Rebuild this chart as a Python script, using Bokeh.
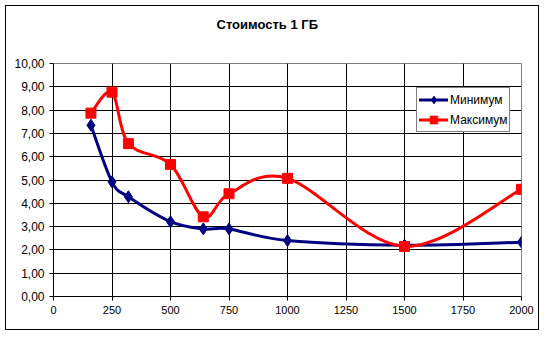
from bokeh.plotting import figure
from bokeh.models import (Range1d, FixedTicker, Legend, LegendItem,
                          ColumnDataSource, Title, InlineStyleSheet)
from bokeh.embed import file_html
from bokeh.resources import INLINE

# ---- data ----
title_text = "Стоимость 1 ГБ"
sizes = [160, 250, 320, 500, 640, 750, 1000, 1500, 2000]
min_price = [7.35, 4.92, 4.28, 3.21, 2.90, 2.90, 2.40, 2.20, 2.33]
max_price = [7.87, 8.77, 6.56, 5.67, 3.42, 4.41, 5.07, 2.15, 4.60]
series_names = ["Минимум", "Максимум"]
x_ticks = [0, 250, 500, 750, 1000, 1250, 1500, 1750, 2000]
y_ticks = [0, 1, 2, 3, 4, 5, 6, 7, 8, 9, 10]
y_tick_labels = ["0,00", "1,00", "2,00", "3,00", "4,00", "5,00",
                 "6,00", "7,00", "8,00", "9,00", "10,00"]

FONT = "Liberation Sans"


def smooth_segments(xs, ys):
    """Cubic Bezier control points for a Catmull-Rom style smoothed line."""
    n = len(xs)
    d = dict(x0=[], y0=[], x1=[], y1=[], cx0=[], cy0=[], cx1=[], cy1=[])
    for i in range(n - 1):
        xa, ya = xs[max(i - 1, 0)], ys[max(i - 1, 0)]
        x1, y1 = xs[i], ys[i]
        x2, y2 = xs[i + 1], ys[i + 1]
        xb, yb = xs[min(i + 2, n - 1)], ys[min(i + 2, n - 1)]
        d["x0"].append(x1); d["y0"].append(y1)
        d["x1"].append(x2); d["y1"].append(y2)
        d["cx0"].append(x1 + (x2 - xa) / 6.0)
        d["cy0"].append(y1 + (y2 - ya) / 6.0)
        d["cx1"].append(x2 - (xb - x1) / 6.0)
        d["cy1"].append(y2 - (yb - y1) / 6.0)
    return ColumnDataSource(d)


p = figure(width=534, height=325, output_backend="svg", toolbar_location=None,
           x_range=Range1d(0, 2000), y_range=Range1d(0, 10),
           min_border_left=47, min_border_right=19,
           min_border_top=57, min_border_bottom=35,
           background_fill_color="white", border_fill_color="white")
# outer chart border
p.stylesheets = [InlineStyleSheet(css=":host { border: 1px solid black; margin: 5px; }")]

# spacers between title and plot area, then the title itself
p.add_layout(Title(text=" ", text_font_size="16px", standoff=0), "above")
p.add_layout(Title(text=" ", text_font_size="6px", standoff=0), "above")
main_title = Title(text=title_text, text_font=FONT, text_font_size="13px",
                   text_font_style="bold", text_color="black",
                   align="left", offset=163)
p.add_layout(main_title, "above")

p.outline_line_color = "#808080"
p.outline_line_width = 1

# grid
p.xgrid.ticker = FixedTicker(ticks=x_ticks[1:-1])
p.ygrid.ticker = FixedTicker(ticks=y_ticks[1:-1])
p.xgrid.grid_line_color = "black"
p.ygrid.grid_line_color = "black"
p.xgrid.grid_line_width = 1
p.ygrid.grid_line_width = 1

# axes
for ax, ticks in ((p.xaxis[0], x_ticks), (p.yaxis[0], y_ticks)):
    ax.ticker = FixedTicker(ticks=ticks)
    ax.axis_line_color = "black"
    ax.major_tick_line_color = "black"
    ax.major_tick_out = 4
    ax.major_tick_in = 0
    ax.minor_tick_line_color = None
    ax.major_label_text_font = FONT
    ax.major_label_text_color = "black"
    ax.major_label_standoff = 5
p.xaxis.major_label_text_font_size = "11px"
p.yaxis.major_label_text_font_size = "12px"
p.yaxis.major_label_overrides = {t: l for t, l in zip(y_ticks, y_tick_labels)}
p.xaxis.major_label_overrides = {t: str(t) for t in x_ticks}

# series
min_color = "#000080"
max_color = "#FF0000"

src_min = smooth_segments(sizes, min_price)
src_max = smooth_segments(sizes, max_price)

b_min = p.bezier(x0="x0", y0="y0", x1="x1", y1="y1", cx0="cx0", cy0="cy0",
                 cx1="cx1", cy1="cy1", source=src_min, line_color=min_color,
                 line_width=3, line_cap="round")
s_min = p.scatter(sizes, min_price, marker="diamond", size=12,
                  fill_color=min_color, line_color=min_color)

b_max = p.bezier(x0="x0", y0="y0", x1="x1", y1="y1", cx0="cx0", cy0="cy0",
                 cx1="cx1", cy1="cy1", source=src_max, line_color=max_color,
                 line_width=3, line_cap="round")
s_max = p.scatter(sizes, max_price, marker="square", size=10,
                  fill_color=max_color, line_color=max_color)

legend = Legend(items=[LegendItem(label=series_names[0], renderers=[b_min, s_min]),
                       LegendItem(label=series_names[1], renderers=[b_max, s_max])],
                location=(363, 164))
legend.label_text_font = FONT
legend.label_text_font_size = "12px"
legend.label_text_color = "black"
legend.border_line_color = "black"
legend.border_line_width = 1
legend.background_fill_color = "white"
legend.background_fill_alpha = 1
legend.glyph_width = 29
legend.glyph_height = 19
legend.label_height = 19
legend.label_standoff = 2
legend.padding = 2
legend.spacing = 1
legend.margin = 0
p.add_layout(legend, "center")

open("out.html", "w").write(file_html(p, INLINE))
